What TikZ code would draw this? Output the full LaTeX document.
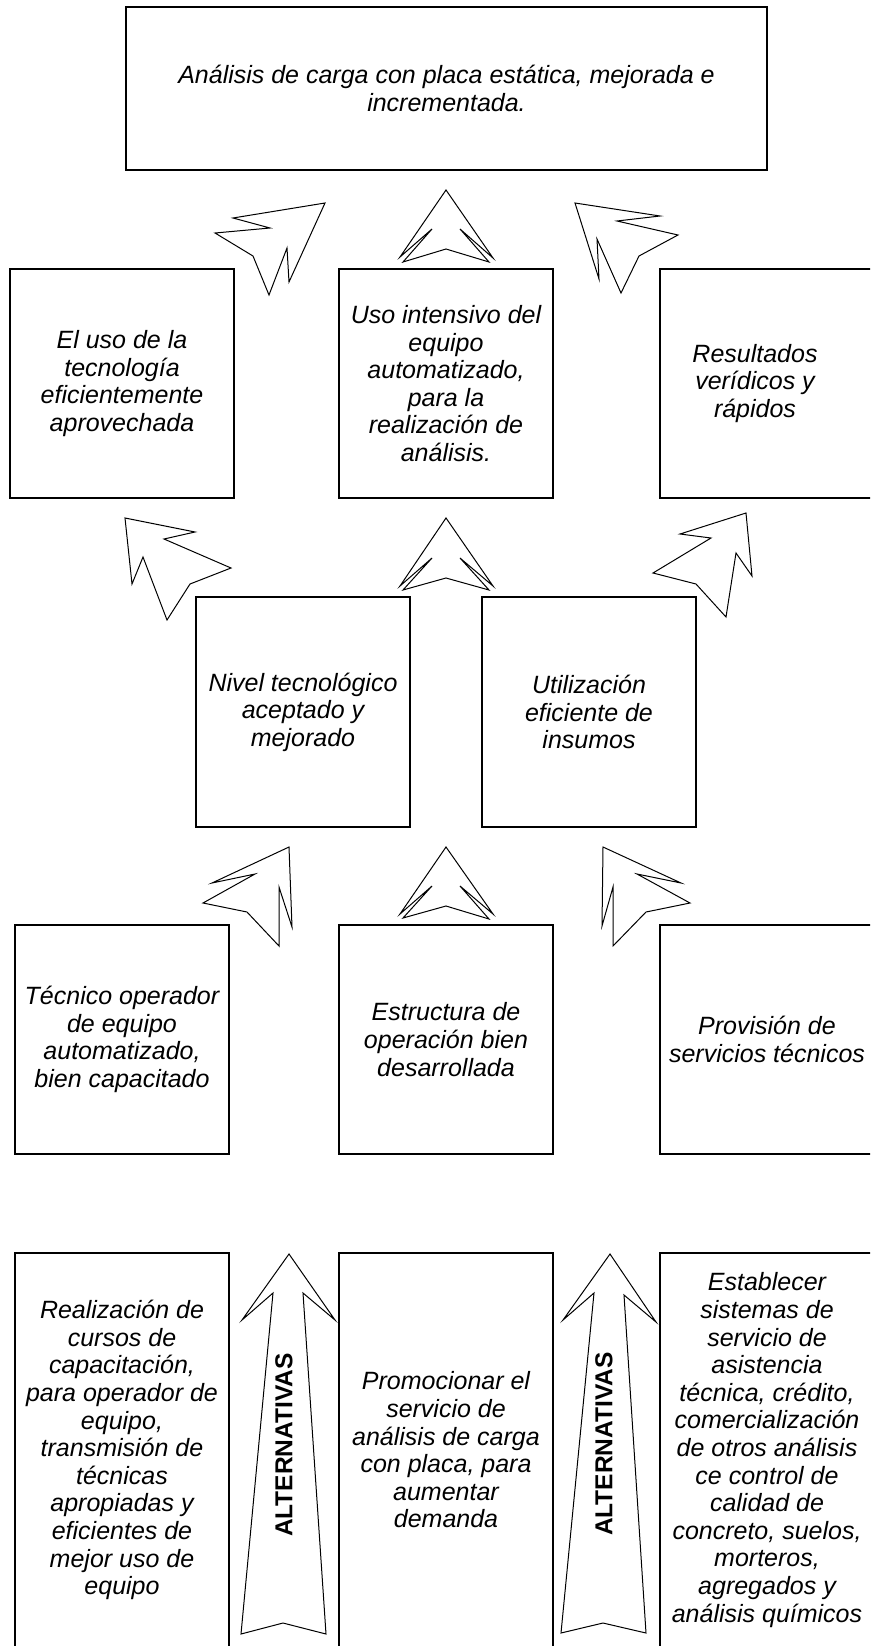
\documentclass[tikz,border=0pt]{standalone}
\usepackage{fontspec}
\setmainfont{Liberation Sans}
\begin{document}
\begin{tikzpicture}[x=1pt,y=-1pt,
  box/.style={draw, line width=1.1pt, inner sep=0pt, align=center,
    font=\fontsize{25}{27.6}\selectfont\itshape},
  lbl/.style={inner sep=0pt, align=center, font=\fontsize{25}{27.6}\selectfont\itshape},
  arr/.style={draw, line width=1pt, fill=white, line join=miter},
  alt/.style={rotate=90, inner sep=0pt, font=\fontsize{24.5}{27}\selectfont\bfseries}]
\useasboundingbox (0,0) rectangle (870,1646);
\clip (0,0) rectangle (870,1646);
% top goal
\node[box, minimum width=641pt, minimum height=163pt] (goal) at (446.5,88.5)
  {Análisis de carga con placa estática, mejorada e\\incrementada.};
% row 2
\node[box, minimum width=224pt, minimum height=229pt] (e1) at (122,383.5)
  {El uso de la\\tecnología\\eficientemente\\aprovechada};
\node[box, minimum width=214pt, minimum height=229pt] (e2) at (446,383.5)
  {Uso intensivo del\\equipo\\automatizado,\\para la\\realización de\\análisis.};
\node[box, minimum width=214pt, minimum height=229pt,
  label={[lbl, xshift=-12pt]center:Resultados\\verídicos y\\rápidos}] (e3) at (767,383.5) {};
% row 3
\node[box, minimum width=214pt, minimum height=230pt] (m1) at (303,712)
  {Nivel tecnológico\\aceptado y\\mejorado};
\node[box, minimum width=214pt, minimum height=230pt] (m2) at (589,712)
  {Utilización\\eficiente de\\insumos};
% row 4
\node[box, minimum width=214pt, minimum height=229pt] (b1) at (122,1039.5)
  {Técnico operador\\de equipo\\automatizado,\\bien capacitado};
\node[box, minimum width=214pt, minimum height=229pt] (b2) at (446,1039.5)
  {Estructura de\\operación bien\\desarrollada};
\node[box, minimum width=214pt, minimum height=229pt] (b3) at (767,1039.5)
  {Provisión de\\servicios técnicos};
% row 5
\node[box, minimum width=214pt, minimum height=394pt] (a1) at (122,1450)
  {Realización de\\cursos de\\capacitación,\\para operador de\\equipo,\\transmisión de\\técnicas\\apropiadas y\\eficientes de\\mejor uso de\\equipo};
\node[box, minimum width=214pt, minimum height=394pt] (a2) at (446,1450)
  {Promocionar el\\servicio de\\análisis de carga\\con placa, para\\aumentar\\demanda};
\node[box, minimum width=214pt, minimum height=394pt] (a3) at (767,1450)
  {Establecer\\sistemas de\\servicio de\\asistencia\\técnica, crédito,\\comercialización\\de otros análisis\\ce control de\\calidad de\\concreto, suelos,\\morteros,\\agregados y\\análisis químicos};
% arrows row 1-2
\draw[arr] (325,203) -- (233,218) -- (270,228) -- (215,233) -- (253,256) -- (269,295) -- (287,248) -- (289,282) -- cycle;
\draw[arr] (446,190) -- (493,258) -- (460,229) -- (489,262) -- (446,249) -- (403,262) -- (432,229) -- (400,257) -- cycle;
\draw[arr] (575,203) -- (660,216) -- (617,221) -- (678,235) -- (639,256) -- (621,293) -- (597,239) -- (599,279) -- cycle;
% arrows row 2-3
\draw[arr] (125,518) -- (195,532) -- (164,539) -- (231,568) -- (190,584) -- (167,620) -- (143,557) -- (132,584) -- cycle;
\draw[arr] (446,518) -- (493,586) -- (460,558) -- (489,590) -- (446,578) -- (403,590) -- (432,558) -- (400,586) -- cycle;
\draw[arr] (746,513) -- (680,534) -- (711,538) -- (653,573) -- (696,584) -- (726,617) -- (736,553) -- (752,576) -- cycle;
% arrows row 3-4
\draw[arr] (289,847) -- (212,883) -- (255,874) -- (203,903) -- (247,912) -- (279,946) -- (279,887) -- (292,927) -- cycle;
\draw[arr] (446,847) -- (493,914) -- (460,886) -- (489,919) -- (446,906) -- (403,918) -- (432,886) -- (400,914) -- cycle;
\draw[arr] (603,847) -- (681,883) -- (637,874) -- (690,903) -- (646,912) -- (613,946) -- (613,887) -- (602,926) -- cycle;
% big alternative arrows
\draw[arr] (289,1254) -- (335,1320) -- (303,1293) -- (326,1634) -- (283,1623) -- (241,1634) -- (273,1293) -- (242,1320) -- cycle;
\draw[arr] (610,1254) -- (656,1322) -- (624,1295) -- (646,1633) -- (603,1623) -- (561,1633) -- (594,1293) -- (563,1320) -- cycle;
\node[alt] (t1) at (284,1445) {ALTERNATIVAS};
\node[alt] (t2) at (604,1444) {ALTERNATIVAS};
\end{tikzpicture}
\end{document}
